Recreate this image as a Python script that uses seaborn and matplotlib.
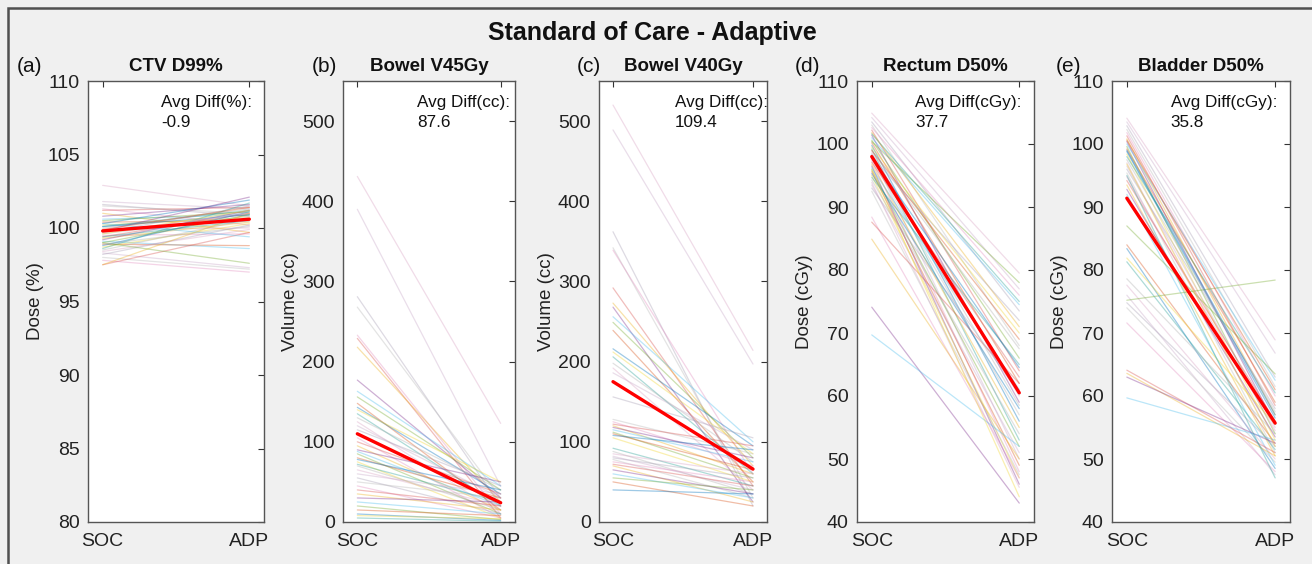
import numpy as np
import pandas as pd
import seaborn as sns
from matplotlib import pyplot as plt
from matplotlib.patches import Rectangle

sns.set_style("white")
plt.rcParams['font.family'] = ['Liberation Sans', 'DejaVu Sans']

# ---- data (SOC -> ADP per patient) ----
ctv_soc = [102.9, 101.8, 101.6, 101.5, 101.3, 101.2, 101.0, 100.8, 100.6, 100.5,
           100.4, 100.3, 100.2, 100.1, 100.0, 99.9, 99.8, 99.7, 99.6, 99.5,
           99.4, 99.3, 99.2, 99.1, 99.0, 98.9, 98.8, 98.7, 98.6, 98.5,
           98.4, 98.3, 98.2, 98.0, 97.8, 97.5, 97.5, 99.8, 100.3, 99.0,
           99.9, 100.1, 99.6, 99.4, 98.9, 99.7]
ctv_adp = [101.5, 101.3, 100.8, 101.0, 100.2, 101.4, 99.7, 101.6, 100.9, 101.1,
           100.5, 101.9, 100.7, 101.2, 101.3, 100.0, 100.6, 101.5, 100.8, 99.6,
           101.0, 100.4, 101.2, 98.6, 100.9, 98.8, 101.1, 100.3, 101.7, 100.6,
           99.9, 97.3, 100.2, 97.2, 97.0, 99.7, 101.0, 102.1, 99.4, 97.6,
           101.4, 100.9, 101.2, 100.5, 100.1, 101.0]

v45_soc = [431, 390, 281, 268, 233, 229, 218, 177, 163, 156, 148, 143,
           140, 135, 130, 125, 120, 115, 110, 105, 100, 95, 90, 88, 85, 80,
           78, 75, 72, 70, 65, 60, 55, 50, 45, 40, 35, 30, 25, 20, 15, 10, 8, 5]
v45_adp = [123, 45, 20, 30, 10, 5, 25, 30, 45, 40, 15, 35,
           50, 20, 40, 10, 30, 45, 25, 5, 35, 15, 50, 20, 10, 30,
           40, 5, 25, 15, 20, 35, 10, 30, 5, 20, 15, 25, 10, 3, 8, 2, 4, 1]

v40_soc = [520, 489, 362, 342, 339, 292, 273, 268, 256, 249, 239, 216,
           212, 206, 198, 192, 186, 156, 128, 125, 122, 120, 118, 115, 112,
           110, 108, 105, 92, 88, 85, 82, 80, 78, 75, 72, 70, 65, 60, 55, 50, 40]
v40_adp = [214, 197, 20, 30, 60, 45, 70, 25, 100, 80, 50, 95,
           85, 60, 75, 40, 90, 105, 85, 70, 95, 60, 80, 75, 55,
           65, 90, 50, 45, 35, 60, 40, 55, 30, 50, 45, 25, 35, 30, 40, 20, 35]

rect_soc = [104.9, 104.2, 103.5, 103.0, 102.6, 102.2, 101.8, 101.4, 101.0, 100.6,
            100.2, 99.8, 99.5, 99.2, 98.9, 98.6, 98.3, 98.0, 97.7, 97.4,
            97.1, 96.8, 96.5, 96.2, 95.9, 95.6, 95.3, 95.0, 94.7, 94.3,
            93.9, 93.5, 93.0, 92.5, 88.4, 87.6, 84.9, 74.1, 69.7, 100.4,
            99.0, 97.9, 96.0, 101.6, 98.4]
rect_adp = [79.5, 77.0, 73.5, 68.0, 76.0, 64.0, 71.0, 59.0, 74.5, 66.0,
            62.0, 56.0, 70.0, 53.0, 67.5, 60.0, 50.0, 72.0, 57.0, 48.0,
            63.0, 55.0, 46.0, 61.0, 52.0, 49.0, 58.0, 47.0, 65.0, 54.0,
            45.5, 51.0, 60.5, 47.5, 47.0, 62.0, 50.0, 43.0, 52.0, 78.0,
            69.0, 64.5, 44.0, 75.0, 58.5]

blad_soc = [104.1, 103.5, 102.9, 102.3, 101.8, 101.3, 100.8, 100.4, 100.0, 99.6,
            99.2, 98.8, 98.4, 98.0, 97.5, 97.0, 96.5, 96.0, 95.4, 94.8,
            94.2, 93.5, 92.8, 92.0, 87.0, 84.0, 83.4, 81.9, 81.3, 78.6,
            77.6, 76.0, 74.8, 74.0, 71.6, 64.1, 63.6, 63.0, 59.7, 75.2,
            100.6, 99.0, 96.8, 95.0]
blad_adp = [68.9, 66.8, 63.0, 61.5, 60.0, 58.5, 57.0, 55.5, 62.5, 54.0,
            59.0, 56.5, 53.0, 60.5, 57.5, 52.0, 55.0, 58.0, 51.0, 54.5,
            56.0, 50.5, 53.5, 49.0, 63.5, 52.5, 48.5, 55.5, 51.5, 54.0,
            50.0, 47.5, 52.0, 49.5, 48.0, 51.0, 50.5, 52.5, 53.0, 78.4,
            61.0, 57.0, 52.0, 47.0]

# mean (red) lines
avg_soc = [99.8, 110, 175, 98.0, 91.4]
avg_adp = [100.6, 24, 66, 60.5, 55.7]

titles = ["CTV D99%", "Bowel V45Gy", "Bowel V40Gy", "Rectum D50%", "Bladder D50%"]
panel_tags = ["(a)", "(b)", "(c)", "(d)", "(e)"]
ylabels = ["Dose (%)", "Volume (cc)", "Volume (cc)", "Dose (cGy)", "Dose (cGy)"]
diff_units = ["Avg Diff(%):", "Avg Diff(cc):", "Avg Diff(cc):", "Avg Diff(cGy):", "Avg Diff(cGy):"]
diff_vals = ["-0.9", "87.6", "109.4", "37.7", "35.8"]
stages = ["SOC", "ADP"]

panels = [(ctv_soc, ctv_adp), (v45_soc, v45_adp), (v40_soc, v40_adp),
          (rect_soc, rect_adp), (blad_soc, blad_adp)]

ylims = [(80, 110), (0, 550), (0, 550), (40, 110), (40, 110)]
yticks = [np.arange(80, 111, 5), np.arange(0, 501, 100), np.arange(0, 501, 100),
          np.arange(40, 111, 10), np.arange(40, 111, 10)]

W, H = 1312, 564
ax_left = [88, 343, 599, 857, 1112]
ax_w = [176, 172, 168, 177, 178]
tag_x = [17, 312, 577, 795, 1056]
txt_x = [0.415, 0.43, 0.45, 0.33, 0.33]

# pastel line colours, cycled over patients
line_cols = ["#d9a3c4", "#c8a8c8", "#a89fb5", "#b8b8b8", "#e38fc0", "#d9534f",
             "#EDB120", "#7E2F8E", "#4DBEEE", "#77AC30", "#D95319", "#0072BD",
             "#f2d630", "#2aa198", "#b0b0b0"]

fig = plt.figure(figsize=(W / 100, H / 100), dpi=100, facecolor="#f0f0f0")
fig.patches.append(Rectangle((8 / W, -0.05), 1.1, 1 - 8 / H + 0.05,
                             transform=fig.transFigure, fill=False,
                             edgecolor="#505050", lw=1.8))

fig.text(652 / W, 1 - 33 / H, "Standard of Care - Adaptive", ha="center", va="center",
         fontsize=18, fontweight="bold", color="#111111")

for i, (soc, adp) in enumerate(panels):
    ax = fig.add_axes([ax_left[i] / W, 42 / H, ax_w[i] / W, 441 / H])
    ax.set_facecolor("white")
    n = len(soc)
    df = pd.DataFrame({
        "patient": np.repeat(np.arange(n), 2),
        "x": np.tile([0, 1], n),
        "value": np.column_stack([soc, adp]).ravel(),
    })
    pal = [line_cols[k % len(line_cols)] for k in range(n)]
    sns.lineplot(data=df, x="x", y="value", hue="patient", palette=pal,
                 legend=False, lw=0.9, alpha=0.38, ax=ax)
    sns.lineplot(x=[0, 1], y=[avg_soc[i], avg_adp[i]], color="red", lw=2.4, ax=ax)

    ax.set_xlim(-0.1, 1.1)
    ax.set_ylim(*ylims[i])
    ax.set_xticks([0, 1])
    ax.set_xticklabels(stages)
    ax.set_yticks(yticks[i])
    ax.set_xlabel("")
    ax.set_ylabel(ylabels[i], fontsize=13.5, color="#222222", labelpad=2)
    ax.tick_params(direction="in", length=4, width=0.8, top=True, right=True,
                   labelsize=14, colors="#333333", labelcolor="#222222")
    ax.tick_params(axis="y", pad=6)
    ax.tick_params(axis="x", pad=8)
    for sp in ax.spines.values():
        sp.set_color("#555555")
        sp.set_linewidth(1.0)
    ax.set_title(titles[i], fontsize=13.5, fontweight="bold", pad=7, color="#111111")
    ax.text(txt_x[i], 0.952, diff_units[i], transform=ax.transAxes, fontsize=12.3,
            va="center", ha="left", color="#111111")
    ax.text(txt_x[i], 0.905, diff_vals[i], transform=ax.transAxes, fontsize=12.3,
            va="center", ha="left", color="#111111")
    fig.text(tag_x[i] / W, 1 - 67 / H, panel_tags[i], fontsize=15, ha="left",
             va="center", color="#111111")

fig.savefig("out.png", dpi=100, facecolor=fig.get_facecolor())
